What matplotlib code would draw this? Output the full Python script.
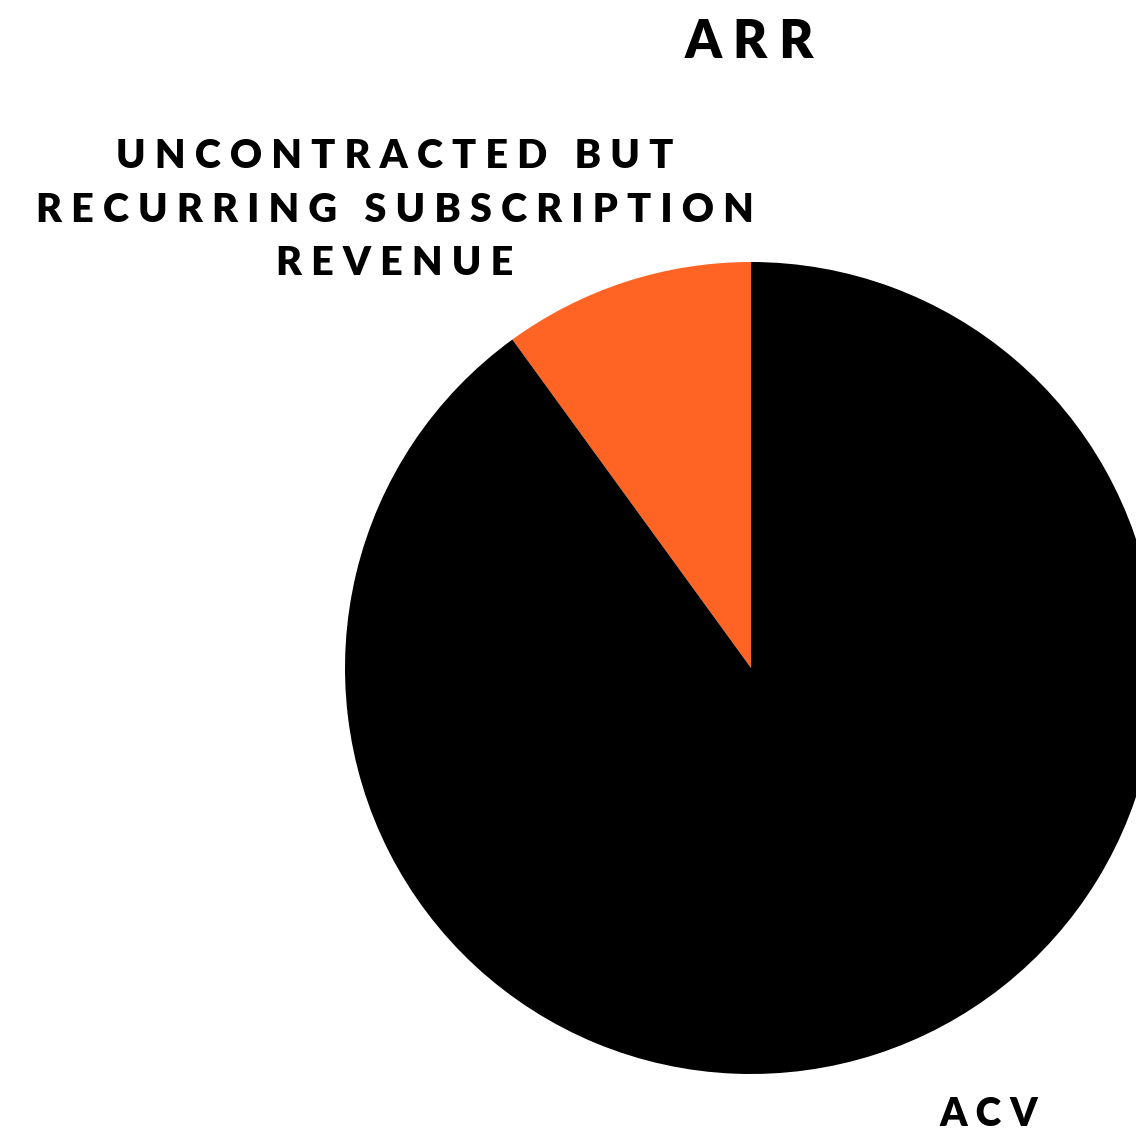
import matplotlib
matplotlib.use("Agg")
import matplotlib.pyplot as plt

# Share of ARR
categories = ["UNCONTRACTED BUT RECURRING SUBSCRIPTION REVENUE", "ACV"]
values = [10, 90]
colors = ["#FF6424", "#000000"]
title = "ARR"

W, H = 1136, 1135


def track(s, gap=" ", word_gap="   "):
    """Spread the letters of each word apart to imitate wide tracking."""
    return word_gap.join(gap.join(w) for w in s.split(" "))


fig = plt.figure(figsize=(W / 100, H / 100), dpi=100)
ax = fig.add_axes([0, 0, 1, 1])

ax.pie(values, colors=colors, startangle=90, counterclock=True,
       center=(751, H - 668), radius=406,
       wedgeprops=dict(linewidth=0))

ax.set_xlim(0, W)
ax.set_ylim(0, H)
ax.set_aspect("auto")
ax.axis("off")

font = dict(family="Lato", weight="heavy", color="black")

ax.text(749, H - 43, track(title), ha="center", va="center", fontsize=37.5, **font)

label_lines = ["UNCONTRACTED BUT", "RECURRING SUBSCRIPTION", "REVENUE"]
label_text = "\n".join(track(l) for l in label_lines)
ax.text(395, H - 210, label_text, ha="center", va="center", fontsize=28.5,
        linespacing=1.56, **font)

ax.text(989, H - 1115, track(categories[1]), ha="center", va="center",
        fontsize=28, **font)

fig.savefig("out.png", dpi=100, facecolor="white")
